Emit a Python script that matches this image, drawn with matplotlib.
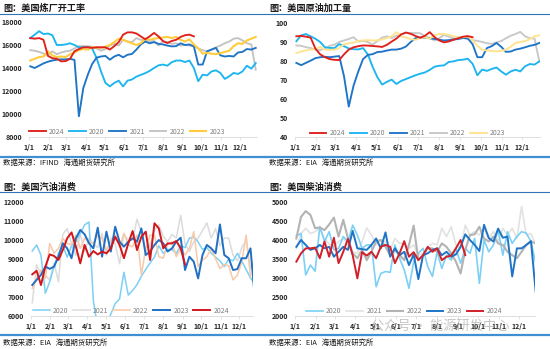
import numpy as np
import matplotlib.pyplot as plt
from matplotlib.lines import Line2D

plt.rcParams['font.family'] = ['Noto Sans CJK SC', 'DejaVu Sans']

W, H = 550, 349

month_days = [0, 31, 59, 90, 120, 151, 181, 212, 243, 273, 304, 334]
month_labels = ['1/1', '2/1', '3/1', '4/1', '5/1', '6/1', '7/1', '8/1', '9/1', '10/1', '11/1', '12/1']

# ---------------- 美国炼厂开工率 ----------------
run_2024 = [16600, 16550, 16600, 16450, 15050, 14850, 14800, 14580, 14600, 14800, 15450, 15650,
            15800, 15800, 15750, 15800, 15800, 15800, 15600, 15900, 16250, 16900, 17100, 17100,
            17000, 16750, 16500, 16750, 17050, 16750, 16350, 16170, 16350, 16450, 16700, 16850,
            16900, 16750]
run_2020 = [16600, 16900, 17200, 16950, 17000, 16850, 16000, 16000, 16050, 16150, 16000, 15800,
            15800, 15800, 15700, 14870, 13700, 12700, 12400, 12700, 12900, 12400, 12900, 13000,
            13250, 13400, 13550, 13750, 14000, 14230, 14300, 14200, 14500, 14650, 14650, 14520,
            14650, 14000, 12850, 13420, 13360, 13700, 13800, 13570, 13050, 13280, 13570, 13480,
            13700, 14200, 13940, 14430]
run_2021 = [14150, 14000, 14200, 14400, 14550, 14650, 14720, 14750, 14750, 14800, 14700, 9800,
            12260, 13400, 14350, 14900, 15000, 15050, 14720, 15000, 15150, 14930, 15150, 15220,
            15600, 16050, 16300, 16150, 16250, 16100, 16050, 15950, 15880, 15900, 16150, 16000,
            16050, 15880, 14300, 14300, 15450, 15600, 15750, 15100, 15000, 15050, 15000, 15350,
            15400, 15650, 15600, 15750]
run_2022 = [15550, 15500, 15400, 15250, 15150, 15450, 15200, 15350, 15450, 15500, 15700, 15900,
            15900, 15900, 15850, 15700, 15500, 15650, 15950, 16100, 15950, 16450, 16300, 16250,
            16600, 16450, 16400, 16300, 16350, 15950, 16300, 16250, 16100, 16150, 15950, 16000,
            15950, 15900, 15700, 15550, 15450, 15600, 15800, 15950, 16150, 16300, 16550, 16600,
            16400, 16150, 16050, 13850]
run_2023 = [14650, 14800, 14950, 15000, 15450, 15100, 14950, 15000, 14950, 15200, 15350, 15550,
            15650, 15600, 15800, 15800, 15750, 15850, 16000, 16250, 16550, 16450, 16300, 16150,
            16000, 16150, 16550, 16450, 16550, 16600, 16650, 16700, 16600, 16700, 16450, 16300,
            16500, 16050, 15700, 15250, 15300, 15250, 15200, 15300, 15400, 15500, 15900, 16150,
            16100, 16400, 16550, 16700]

# ---------------- 美国原油加工量 ----------------
crude_2024 = [93, 93.2, 92.8, 92.3, 86.5, 83.5, 82, 81, 80.6, 80.5, 83.5, 86, 87.2, 87.8, 88.2,
              88.1, 87.9, 87.7, 87.4, 88.5, 90.2, 91.8, 94, 95, 94.3, 93.2, 92.2, 93.3, 95.2,
              92.6, 90.8, 89.8, 90.3, 91.2, 92, 92.8, 93.1, 92.5]
crude_2020 = [90.4, 93.5, 94.2, 93, 91.7, 90, 87.2, 86.9, 86.8, 88.9, 87.8, 86.6, 86.2, 86.1,
              86.8, 83.5, 77, 71.5, 67.6, 69, 70.2, 67.9, 69.5, 70.5, 71.5, 72.5, 73.3, 74, 75.3,
              77, 77.5, 77.7, 79.5, 79.8, 80.5, 80.7, 81.2, 78.5, 72.5, 75.5, 74.8, 75.8, 76.6,
              74.5, 72.8, 74.5, 75.4, 74.5, 77.2, 78.4, 78.1, 79.8]
crude_2021 = [79, 77.8, 79, 80.2, 81.5, 82, 82.2, 82, 82.3, 82.6, 72, 56, 67, 74.5, 81, 83.2,
              83.6, 84.7, 84.9, 85.5, 86, 86, 86.5, 87.6, 90, 92, 92.4, 92.2, 92, 91.6, 91.2,
              90.8, 91, 91.3, 91.6, 92.1, 91.8, 88.8, 82, 82, 86.8, 87.8, 89.5, 87.5, 84.8, 85,
              86, 86.5, 87.2, 88, 88.5, 89.5]
crude_2022 = [88.2, 88, 87.3, 86.8, 86, 85.8, 86.6, 88, 88.6, 90, 90.8, 91.6, 92.5, 90.2, 90.6,
              90, 88.6, 90.5, 92.3, 93, 92.1, 93.3, 94, 94.7, 94.7, 94.7, 94.6, 93, 92.1, 90.8,
              92, 93.7, 92.8, 91.8, 92.4, 92.4, 91.8, 91, 90.6, 90, 89.4, 89, 89.8, 90.5, 92,
              93.3, 94.2, 95.3, 93, 92, 91.8, 79.8]
crude_2023 = [84.2, 85, 85.6, 86, 86.1, 87.5, 86, 85.8, 86, 86.8, 88.8, 89.3, 89.6, 90.6, 90.8,
              91, 90.8, 90.9, 91.3, 92, 93.1, 95.2, 93, 92.4, 91.5, 91.1, 92.1, 92.4, 91.8, 93.5,
              94.2, 94.2, 93.8, 93, 92.5, 92.5, 93, 90.8, 88, 86, 85.5, 85.3, 85.1, 85.3, 86,
              87.5, 89.5, 90, 90.4, 91.5, 93, 93.5]

# ---------------- 美国汽油消费 ----------------
gas_2020 = [9420, 9740, 9200, 7200, 7800, 8600, 9300, 9700, 9100, 9700, 9900, 10350, 10800,
            10950, 6800, 5400, 5100, 5500, 6100, 6650, 6900, 8300, 7100, 7350, 7650, 8100, 8450,
            8800, 9100, 9700, 9300, 9500, 9500, 9300, 9700, 9600, 10100, 10150, 9900, 9500, 9600,
            9300, 9100, 8900, 8600, 9000, 8900, 9300, 8900, 8450, 8000, 7700]
gas_2021 = [6700, 8700, 8200, 8150, 7900, 8800, 7800, 10300, 10600, 9800, 9200, 10300, 9400,
            10100, 9800, 9600, 10350, 9200, 10100, 9800, 8750, 10300, 10000, 10000, 11100, 10400,
            9300, 9800, 10500, 10800, 10200, 9900, 10300, 10100, 11300, 9800, 9400, 9900, 10100,
            10500, 10900, 10100, 10600, 9700, 10100, 10100, 9200, 8900, 9600, 10000, 8500, 9000]
gas_2022 = [7450, 7980, 8420, 7980, 9820, 9300, 9560, 10090, 9820, 9740, 10260, 9560, 10090,
            9910, 9820, 10260, 10090, 9470, 9910, 10260, 9650, 10350, 9740, 9650, 10260, 8160,
            9560, 10260, 10260, 9120, 9040, 9740, 9910, 9120, 9560, 9210, 9560, 10440, 8600,
            8950, 9120, 9550, 9000, 8500, 8700, 8650, 7900, 8150, 8850, 10250, 8050]
gas_2023 = [7630, 7900, 8160, 8600, 8480, 8600, 9120, 9830, 9560, 9040, 10090, 10530, 10300,
            9830, 9560, 10650, 9120, 10440, 9390, 10700, 9910, 9650, 9910, 10090, 9910, 10610,
            9210, 9390, 9740, 10000, 9830, 9390, 9560, 9910, 10120, 8420, 9120, 8860, 7980, 9210,
            9740, 9560, 9300, 10820, 9210, 9040, 8420, 8470, 9040, 9040, 9560, 6930]
gas_2024 = [8190, 8380, 7630, 8600, 9240, 9160, 8950, 9470, 10090, 10400, 9650, 8770, 9740,
            9120, 9420, 9240, 9390, 9300, 9560, 10170, 9740, 9040, 9820, 10470, 9470, 10170,
            10440, 8950, 10880, 10610, 9560, 9820, 9820, 9950, 9560, 8720]

# ---------------- 美国柴油消费 ----------------
dsl_2020 = [4110, 4170, 3080, 3340, 3180, 4350, 3960, 4220, 3740, 3780, 4090, 3960, 4390, 4130,
            3780, 3870, 3870, 2770, 3120, 3170, 3150, 3870, 3520, 3210, 2730, 3430, 3650, 3780,
            3300, 3040, 3690, 3250, 3600, 3470, 3780, 3390, 3780, 3650, 4040, 2860, 4000, 3690,
            3870, 4260, 3600, 4220, 3910, 4090, 4220, 4180, 3960, 3390]
dsl_2021 = [3780, 4170, 4310, 4170, 4220, 4310, 4040, 3890, 3820, 3960, 4040, 3870, 3690, 3650,
            3960, 4320, 4130, 3870, 4000, 3960, 3740, 4040, 3910, 3910, 3780, 3870, 3600, 3650,
            3820, 3910, 3870, 4310, 4090, 4350, 3870, 3780, 4390, 4130, 4220, 4130, 4310, 4040,
            4220, 3960, 4310, 4130, 4310, 4040, 4880, 4130, 4170, 3870]
dsl_2022 = [4040, 4610, 4760, 4660, 4310, 4330, 4260, 4410, 4590, 4090, 4530, 4040, 3650, 3520,
            3740, 3470, 3690, 3960, 4000, 3820, 3600, 3740, 3600, 3470, 3870, 4380, 3470, 3600,
            3780, 3780, 3690, 3910, 3820, 3650, 3430, 3120, 3740, 4130, 4150, 4350, 4040, 3960,
            4090, 3910, 3870, 3690, 3600, 3520, 3690, 3870, 3960, 3910]
dsl_2023 = [3820, 4000, 3870, 3740, 3780, 3870, 3780, 3820, 3560, 3690, 3820, 3740, 4240, 3780,
            3760, 3740, 3870, 4040, 3780, 4200, 3560, 3780, 3600, 3690, 3340, 3620, 2970, 3600,
            3650, 3740, 3780, 3600, 3690, 3560, 3620, 3820, 4150, 4000, 3870, 3710, 4400, 4050,
            3960, 4300, 4060, 4090, 3040, 3780, 3780, 3870, 3970, 2640]
dsl_2024 = [3430, 3650, 3780, 3780, 3800, 3520, 3960, 3560, 4060, 3390, 3690, 4030, 3600, 2990,
            3680, 3590, 3690, 3520, 3820, 3870, 3820, 3390, 3650, 3970, 3560, 3680, 3470, 3600,
            3820, 3690, 3780, 3470, 3560, 3590, 3780, 4000, 3600]


def px(x, y):
    return x / W, 1 - y / H


def rect(x0, y0, x1, y1):
    return [x0 / W, 1 - y1 / H, (x1 - x0) / W, (y1 - y0) / H]


def days(vals):
    return 2 + 7 * np.arange(len(vals))


def header(fig, x0, x1, y_title, y_line, y_bot, y_src, title, source):
    fig.text(*px(x0 + 3, y_title), title, fontsize=6.6, fontweight='bold',
             color='#1a1a1a', va='center', ha='left')
    fig.add_artist(Line2D([x0 / W, x1 / W], [1 - y_line / H] * 2,
                          transform=fig.transFigure, color='#2E75B6', lw=0.8))
    fig.add_artist(Line2D([x0 / W, x1 / W], [1 - y_bot / H] * 2,
                          transform=fig.transFigure, color='#3F8FD2', lw=1.6))
    fig.text(*px(x0 + 3, y_src), source, fontsize=5.3, color='#1a1a1a',
             va='center', ha='left')


def panel(fig, box, series, ylim, yticks, xmax, leg_x, leg_y):
    ax = fig.add_axes(box)
    for label, vals, color, lw, z in series:
        ax.plot(days(vals), vals, color=color, lw=lw, label=label, zorder=z)
    ax.set_xlim(0, xmax)
    ax.set_ylim(*ylim)
    ax.set_yticks(yticks)
    ax.set_yticklabels([str(v) for v in yticks])
    ax.set_xticks(month_days)
    ax.set_xticklabels(month_labels)
    for s in ['top', 'right', 'left']:
        ax.spines[s].set_visible(False)
    ax.spines['bottom'].set_color('#d9d9d9')
    ax.spines['bottom'].set_linewidth(0.6)
    ax.tick_params(axis='y', length=0, pad=5, labelsize=5, labelcolor='#262626')
    ax.tick_params(axis='x', length=2, width=0.5, color='#d9d9d9', pad=3,
                   labelsize=5, labelcolor='#262626')
    for t in ax.get_xticklabels() + ax.get_yticklabels():
        t.set_fontweight('bold')
    handles, labels = ax.get_legend_handles_labels()
    ax.legend(handles, labels, loc='center', bbox_to_anchor=(leg_x, leg_y), ncol=5,
              frameon=False, fontsize=5, labelcolor='#7f7f7f', handlelength=2.4,
              handletextpad=0.45, columnspacing=0.7, borderpad=0.1)
    return ax


fig = plt.figure(figsize=(W / 100, H / 100), dpi=100)

# 图：美国炼厂开工率
header(fig, 0, 265, 8, 13.5, 156.5, 163, '图：美国炼厂开工率', '数据来源：IFIND   海通期货研究所')
panel(fig, rect(29, 22, 257, 137),
      [('2024', run_2024, '#E0201B', 1.35, 6),
       ('2020', run_2020, '#1CB5F0', 1.35, 3),
       ('2021', run_2021, '#1F74C6', 1.35, 4),
       ('2022', run_2022, '#C3C3C3', 1.35, 2),
       ('2023', run_2023, '#FFCC3E', 1.5, 5)],
      (8000, 18000), list(range(8000, 18001, 2000)), 361, 0.43, 0.045)

# 图：美国原油加工量
header(fig, 266, 550, 8, 13.5, 156.5, 163, '图：美国原油加工量', '数据来源：EIA   海通期货研究所')
panel(fig, rect(295, 23, 540, 137),
      [('2024', crude_2024, '#E0201B', 1.35, 6),
       ('2020', crude_2020, '#1CB5F0', 1.35, 3),
       ('2021', crude_2021, '#1F74C6', 1.35, 4),
       ('2022', crude_2022, '#C8C8C8', 1.35, 2),
       ('2023', crude_2023, '#FFE38F', 1.35, 5)],
      (40, 100), list(range(40, 101, 10)), 360, 0.46, 0.035)

# 图：美国汽油消费
header(fig, 0, 265, 187, 192, 335, 343, '图：美国汽油消费', '数据来源：EIA   海通期货研究所')
panel(fig, rect(31, 202, 253, 316),
      [('2020', gas_2020, '#7CD0F5', 1.1, 2),
       ('2021', gas_2021, '#DCDCDC', 1.1, 1),
       ('2022', gas_2022, '#F8C9A8', 1.1, 3),
       ('2023', gas_2023, '#1F6FC5', 1.4, 4),
       ('2024', gas_2024, '#D2161B', 1.4, 5)],
      (6000, 12000), list(range(6000, 12001, 1000)), 356, 0.45, 0.045)

# 图：美国柴油消费
header(fig, 266, 550, 187, 192, 335, 343, '图：美国柴油消费', '数据来源：EIA   海通期货研究所')
panel(fig, rect(295, 202, 535, 316),
      [('2020', dsl_2020, '#7CD0F5', 1.2, 2),
       ('2021', dsl_2021, '#E2E2E2', 1.2, 1),
       ('2022', dsl_2022, '#B3B3B3', 1.5, 3),
       ('2023', dsl_2023, '#1F74C6', 1.4, 4),
       ('2024', dsl_2024, '#D2202A', 1.4, 5)],
      (2000, 5000), list(range(2000, 5001, 500)), 358, 0.455, 0.04)

# watermark (sits over the axis labels, as in the source image)
fig.text(*px(440, 326), '公众号 · 能源研发中心', fontsize=9.5, color='#8c8c8c',
         alpha=0.5, ha='center', va='center')

fig.savefig('out.png', dpi=100)
